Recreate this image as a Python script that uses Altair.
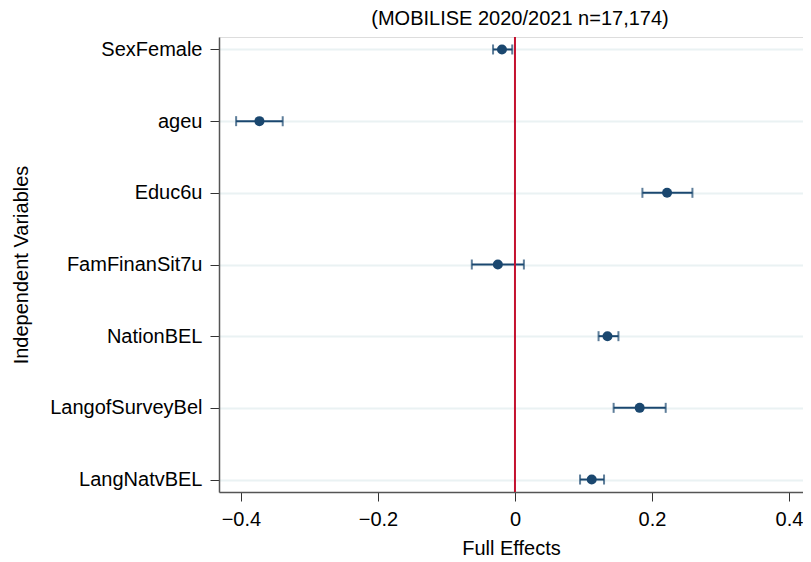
import altair as alt
import pandas as pd

variables = ["SexFemale", "ageu", "Educ6u", "FamFinanSit7u", "NationBEL", "LangofSurveyBel", "LangNatvBEL"]
estimates = [-0.019, -0.373, 0.222, -0.025, 0.135, 0.182, 0.112]
ci_low = [-0.032, -0.407, 0.186, -0.063, 0.122, 0.144, 0.095]
ci_high = [-0.004, -0.339, 0.259, 0.013, 0.151, 0.220, 0.130]
x_ticks = [-0.4, -0.2, 0, 0.2, 0.4]

df = pd.DataFrame({"var": variables, "est": estimates, "lo": ci_low, "hi": ci_high})

FONT = "Liberation Sans"
NAVY = "#1a476f"
RED = "#c4112f"
FS = 20

xscale = alt.Scale(domain=[-0.432, 0.4204], nice=False, zero=False)
yscale = alt.Scale(type="point", domain=variables, padding=0.174)

base = alt.Chart(df)

x_axis = alt.Axis(values=x_ticks, format="~g", title="Full Effects", grid=False,
                  tickSize=9, tickColor="#333333", domainColor="#555555", domainWidth=1.5,
                  labelFontSize=FS, titleFontSize=FS, labelFont=FONT, titleFont=FONT,
                  labelColor="#000000", titleColor="#000000", labelPadding=8, titlePadding=9,
                  titleFontWeight="normal", labelFlush=False)
y_axis = alt.Axis(title="Independent Variables", grid=True, gridColor="#eaf2f3", gridWidth=2,
                  tickSize=9, tickColor="#333333", domainColor="#555555", domainWidth=1.5,
                  labelFontSize=FS, titleFontSize=FS, labelFont=FONT, titleFont=FONT,
                  labelColor="#000000", titleColor="#000000", labelPadding=8, titlePadding=18,
                  titleFontWeight="normal")

bars = base.mark_rule(color=NAVY, strokeWidth=2).encode(
    x=alt.X("lo:Q", scale=xscale, axis=x_axis),
    x2="hi:Q",
    y=alt.Y("var:N", scale=yscale, axis=y_axis, sort=variables),
)
cap_lo = base.mark_tick(color=NAVY, orient="vertical", size=10, thickness=2).encode(
    x=alt.X("lo:Q", scale=xscale), y=alt.Y("var:N", scale=yscale, sort=variables))
cap_hi = base.mark_tick(color=NAVY, orient="vertical", size=10, thickness=2).encode(
    x=alt.X("hi:Q", scale=xscale), y=alt.Y("var:N", scale=yscale, sort=variables))
zero = alt.Chart(pd.DataFrame({"z": [0]})).mark_rule(color=RED, strokeWidth=2).encode(
    x=alt.X("z:Q", scale=xscale))
pts = base.mark_circle(color=NAVY, size=100, opacity=1).encode(
    x=alt.X("est:Q", scale=xscale), y=alt.Y("var:N", scale=yscale, sort=variables))

chart = alt.layer(bars, cap_lo, cap_hi, zero, pts).properties(
    width=584, height=455,
    title=alt.TitleParams("(MOBILISE 2020/2021 n=17,174)", font=FONT, fontSize=FS,
                          fontWeight="normal", color="#000000", anchor="middle", dx=9, offset=7),
    autosize=alt.AutoSizeParams(type="none"),
    padding={"left": 211, "top": 29, "right": 0, "bottom": 66},
).configure_view(stroke=None).configure(background="#ffffff")

chart.save("out.html", embed_options={"renderer": "svg", "actions": False})
